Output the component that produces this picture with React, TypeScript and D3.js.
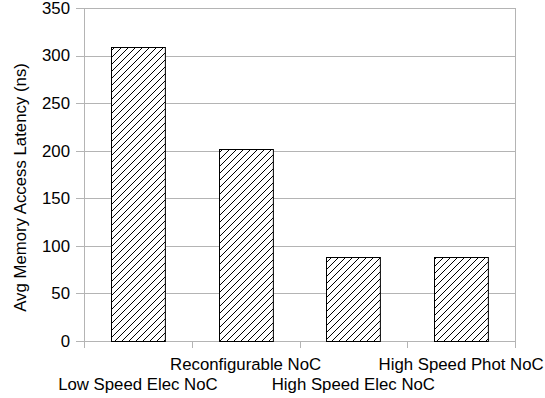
import * as d3 from 'd3';
import { useEffect, useRef } from 'react';

const categories = ['Low Speed Elec NoC', 'Reconfigurable NoC', 'High Speed Elec NoC', 'High Speed Phot NoC'];
const latency = [309, 202, 88, 88];
const yTicks = [0, 50, 100, 150, 200, 250, 300, 350];

export default function App() {
  const ref = useRef<SVGSVGElement | null>(null);

  useEffect(() => {
    const svg = d3.select(ref.current);
    svg.selectAll('*').remove();

    const width = 545;
    const height = 398;
    const margin = { top: 8, right: 30, bottom: 57, left: 84 };
    const innerW = width - margin.left - margin.right;
    const innerH = height - margin.top - margin.bottom;
    const font = 'Liberation Sans, Arial, sans-serif';
    const fs = 16.8;
    const grid = '#b4b4b4';

    const defs = svg.append('defs');
    const pat = defs
      .append('pattern')
      .attr('id', 'hatch')
      .attr('patternUnits', 'userSpaceOnUse')
      .attr('width', 7)
      .attr('height', 7);
    pat.append('rect').attr('width', 7).attr('height', 7).attr('fill', '#fff');
    pat
      .append('path')
      .attr('d', 'M0,7 L7,0 M-1,1 L1,-1 M6,8 L8,6')
      .attr('stroke', '#000')
      .attr('stroke-width', 1);

    const x = d3.scaleBand<string>().domain(categories).range([0, innerW]).paddingInner(0.5).paddingOuter(0.25);
    const xb = d3.scaleBand<string>().domain(categories).range([0, innerW]);
    const y = d3.scaleLinear().domain([0, 350]).range([innerH, 0]);

    const g = svg.append('g').attr('transform', `translate(${margin.left},${margin.top})`);

    // gridlines + y ticks
    g.selectAll('line.grid')
      .data(yTicks)
      .enter()
      .append('line')
      .attr('x1', -8)
      .attr('x2', innerW)
      .attr('y1', (d) => Math.round(y(d)) + 0.5)
      .attr('y2', (d) => Math.round(y(d)) + 0.5)
      .attr('stroke', grid);

    g.selectAll('text.ytick')
      .data(yTicks)
      .enter()
      .append('text')
      .attr('x', -14)
      .attr('y', (d) => y(d))
      .attr('dy', '0.35em')
      .attr('text-anchor', 'end')
      .attr('font-family', font)
      .attr('font-size', fs)
      .attr('fill', '#000')
      .text((d) => d);

    // frame
    g.append('line').attr('x1', 0.5).attr('x2', 0.5).attr('y1', 0).attr('y2', innerH).attr('stroke', grid);
    g.append('line').attr('x1', innerW + 0.5).attr('x2', innerW + 0.5).attr('y1', 0).attr('y2', innerH).attr('stroke', grid);

    // x ticks at band boundaries
    const bounds = categories.map((c) => xb(c)!).concat([innerW]);
    g.selectAll('line.xtick')
      .data(bounds)
      .enter()
      .append('line')
      .attr('x1', (d) => Math.round(d) + 0.5)
      .attr('x2', (d) => Math.round(d) + 0.5)
      .attr('y1', innerH)
      .attr('y2', innerH + 7)
      .attr('stroke', grid);

    // bars
    g.selectAll('rect.bar')
      .data(categories)
      .enter()
      .append('rect')
      .attr('x', (d) => Math.round(x(d)!) + 0.5)
      .attr('y', (d, i) => Math.round(y(latency[i])) + 0.5)
      .attr('width', x.bandwidth())
      .attr('height', (d, i) => Math.round(innerH - y(latency[i])))
      .attr('fill', 'url(#hatch)')
      .attr('stroke', '#000')
      .attr('stroke-width', 1);

    // staggered x labels
    g.selectAll('text.xlabel')
      .data(categories)
      .enter()
      .append('text')
      .attr('x', (d) => xb(d)! + xb.bandwidth() / 2)
      .attr('y', (d, i) => innerH + (i % 2 === 0 ? 49 : 29))
      .attr('text-anchor', 'middle')
      .attr('font-family', font)
      .attr('font-size', fs)
      .attr('fill', '#000')
      .text((d) => d);

    svg
      .append('text')
      .attr('transform', 'translate(25.5,187.5) rotate(-90)')
      .attr('text-anchor', 'middle')
      .attr('font-family', font)
      .attr('font-size', fs)
      .attr('fill', '#000')
      .text('Avg Memory Access Latency (ns)');
  }, []);

  return (
    <svg
      ref={ref}
      width={545}
      height={398}
      style={{ position: 'absolute', left: 0, top: 0, background: '#fff' }}
    />
  );
}
